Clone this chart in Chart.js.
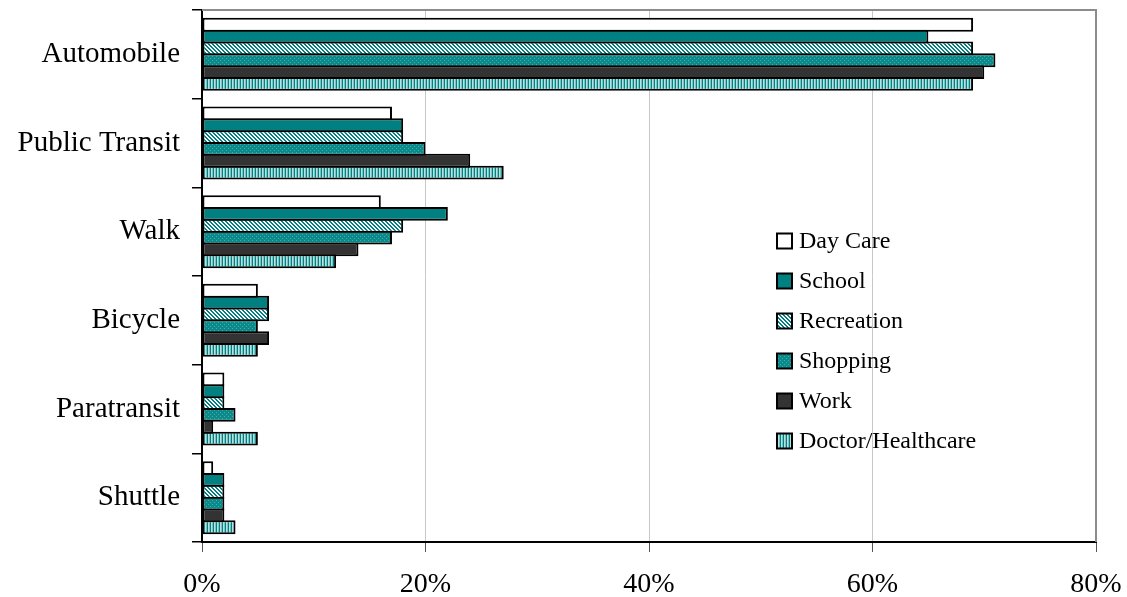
<!DOCTYPE html>
<html>
<head>
<meta charset="utf-8">
<script src="https://cdn.jsdelivr.net/npm/chart.js@4.4.1/dist/chart.umd.min.js"></script>
<style>
html,body{margin:0;padding:0;background:#fff;}
#wrap{width:1127px;height:597px;}
</style>
</head>
<body>
<div id="wrap"><canvas id="c" width="1127" height="597"></canvas></div>
<script>
const categories = ['Automobile', 'Public Transit', 'Walk', 'Bicycle', 'Paratransit', 'Shuttle'];
const seriesLabels = ['Day Care', 'School', 'Recreation', 'Shopping', 'Work', 'Doctor/Healthcare'];
const dayCare    = [69, 17, 16, 5, 2, 1];
const school     = [65, 18, 22, 6, 2, 2];
const recreation = [69, 18, 18, 6, 2, 2];
const shopping   = [71, 20, 17, 5, 3, 2];
const work       = [70, 24, 14, 6, 1, 2];
const doctor     = [69, 27, 12, 5, 5, 3];
const xMin = 0, xMax = 80, xStep = 20;

const FONT = "'Liberation Serif', 'Times New Roman', serif";

function makePattern(w, h, painter) {
  const pc = document.createElement('canvas');
  pc.width = w; pc.height = h;
  const p = pc.getContext('2d');
  painter(p);
  return document.getElementById('c').getContext('2d').createPattern(pc, 'repeat');
}
const TEAL = '#008080';
const recPattern = makePattern(4, 4, p => {
  p.fillStyle = '#ffffff'; p.fillRect(0, 0, 4, 4);
  p.fillStyle = TEAL;
  for (let y = 0; y < 4; y++) for (let x = 0; x < 4; x++) {
    const d = ((x - y) % 4 + 4) % 4;
    if (d === 0 || d === 1) p.fillRect(x, y, 1, 1);
  }
});
const shopPattern = makePattern(4, 4, p => {
  p.fillStyle = '#0a8a8a'; p.fillRect(0, 0, 4, 4);
  p.fillStyle = '#4aa8a8';
  p.fillRect(0, 0, 1, 1); p.fillRect(2, 2, 1, 1);
});
const docPattern = makePattern(3, 1, p => {
  p.fillStyle = '#008080'; p.fillRect(0, 0, 1, 1);
  p.fillStyle = '#b8e2e2'; p.fillRect(1, 0, 1, 1);
  p.fillStyle = '#7cc4c4'; p.fillRect(2, 0, 1, 1);
});

const fills = ['#ffffff', TEAL, recPattern, shopPattern, '#333333', docPattern];
const seriesData = [dayCare, school, recreation, shopping, work, doctor];

const legendPlugin = {
  id: 'customLegend',
  afterDraw(chart) {
    const ctx = chart.ctx;
    const area = chart.chartArea;
    ctx.save();
    ctx.strokeStyle = '#8c8c8c';
    ctx.lineWidth = 2;
    ctx.beginPath();
    ctx.moveTo(area.left, area.top);
    ctx.lineTo(area.right, area.top);
    ctx.lineTo(area.right, area.bottom);
    ctx.stroke();
    ctx.font = '24px ' + FONT;
    ctx.textBaseline = 'middle';
    ctx.textAlign = 'left';
    chart.data.datasets.forEach((ds, i) => {
      const cy = 241 + i * 40;
      ctx.fillStyle = ds.backgroundColor;
      ctx.fillRect(777, cy - 7.5, 15, 15);
      ctx.strokeStyle = '#000';
      ctx.lineWidth = 2;
      ctx.strokeRect(777, cy - 7.5, 15, 15);
      ctx.fillStyle = '#000';
      ctx.fillText(ds.label, 799, cy + 1);
    });
    ctx.restore();
  }
};

new Chart(document.getElementById('c'), {
  type: 'bar',
  data: {
    labels: categories,
    datasets: seriesLabels.map((lab, i) => ({
      label: lab,
      data: seriesData[i],
      backgroundColor: fills[i],
      borderColor: '#000000',
      borderWidth: 2,
      borderSkipped: false,
      categoryPercentage: 0.8,
      barPercentage: 1.17
    }))
  },
  options: {
    indexAxis: 'y',
    responsive: false,
    animation: false,
    devicePixelRatio: 1,
    layout: { padding: { top: 10, right: 31, left: 0, bottom: 0 } },
    plugins: { legend: { display: false }, tooltip: { enabled: false } },
    scales: {
      x: {
        type: 'linear',
        min: xMin, max: xMax,
        ticks: {
          stepSize: xStep,
          callback: v => v + '%',
          font: { family: FONT, size: 28 },
          color: '#000',
          padding: 16
        },
        grid: {
          color: ctx => (ctx.tick && ctx.tick.value > xMin && ctx.tick.value < xMax) ? '#c8c8c8' : 'rgba(0,0,0,0)',
          tickColor: '#555',
          tickLength: 10,
          lineWidth: 1
        },
        border: { color: '#000', width: 2 },
        afterFit: s => { s.height = 55; s.paddingLeft = 0; s.paddingRight = 0; }
      },
      y: {
        type: 'category',
        ticks: {
          font: { family: FONT, size: 29 },
          color: '#000',
          padding: 12
        },
        grid: {
          offset: true,
          drawOnChartArea: false,
          tickColor: '#000',
          tickLength: 10,
          lineWidth: 1.5
        },
        border: { color: '#000', width: 2 },
        afterFit: s => { s.width = 202; s.paddingTop = 0; s.paddingBottom = 0; }
      }
    }
  },
  plugins: [legendPlugin]
});
</script>
</body>
</html>
